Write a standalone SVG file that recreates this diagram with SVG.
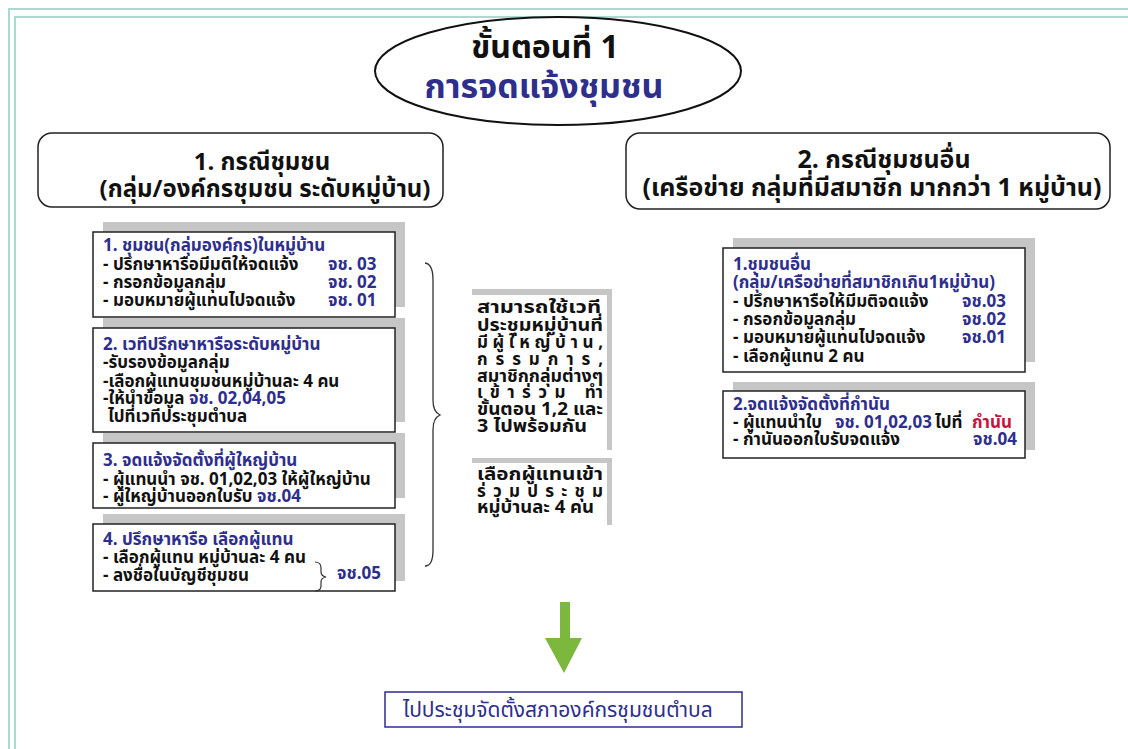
<svg xmlns="http://www.w3.org/2000/svg" width="1128" height="749" viewBox="0 0 1128 749">
<style>
.t{font-family:Tahoma,'Noto Sans Thai','Noto Sans','DejaVu Sans',sans-serif;font-weight:bold;fill:#111}
.s{font-size:17px}
.blue{fill:#2e2e8c}
.red{fill:#c8123c}
.box{fill:#fff;stroke:#222;stroke-width:1.5}
.sh{fill:#c6c6c6}
.frame{fill:none;stroke:#a9d9d1;stroke-width:2}
</style>
<rect x="0" y="0" width="1128" height="749" fill="#fff"/>
<rect class="frame" x="9" y="9" width="1130" height="760"/>
<rect class="frame" x="15" y="17" width="1120" height="750"/>

<g id="title">
<ellipse cx="558" cy="71" rx="183" ry="54" fill="#fff" stroke="#111" stroke-width="2"/>
<text class="t" x="545" y="58" font-size="32" text-anchor="middle">ขั้นตอนที่ 1</text>
<text class="t blue" x="544" y="98" font-size="34" text-anchor="middle">การจดแจ้งชุมชน</text>
</g>

<g id="header1">
<rect x="38" y="133" width="405" height="74" rx="14" fill="#fff" stroke="#222" stroke-width="1.5"/>
<text class="t" x="262" y="170" font-size="24" text-anchor="middle">1. กรณีชุมชน</text>
<text class="t" x="265" y="197" font-size="24" text-anchor="middle">(กลุ่ม/องค์กรชุมชน ระดับหมู่บ้าน)</text>
</g>

<g id="header2">
<rect x="626" y="133" width="484" height="76" rx="14" fill="#fff" stroke="#222" stroke-width="1.5"/>
<text class="t" x="884" y="168" font-size="25" text-anchor="middle">2. กรณีชุมชนอื่น</text>
<text class="t" x="872" y="196" font-size="25" text-anchor="middle">(เครือข่าย กลุ่มที่มีสมาชิก มากกว่า 1 หมู่บ้าน)</text>
</g>

<g id="L1">
<rect class="sh" x="103" y="222" width="302" height="85"/>
<rect class="box" x="93" y="232" width="302" height="85"/>
<text class="t s blue" x="103" y="251">1. ชุมชน(กลุ่มองค์กร)ในหมู่บ้าน</text>
<text class="t s" x="103" y="270">- ปรึกษาหารือมีมติให้จดแจ้ง</text>
<text class="t s blue" x="328" y="270">จช. 03</text>
<text class="t s" x="103" y="288">- กรอกข้อมูลกลุ่ม</text>
<text class="t s blue" x="328" y="288">จช. 02</text>
<text class="t s" x="103" y="306">- มอบหมายผู้แทนไปจดแจ้ง</text>
<text class="t s blue" x="328" y="306">จช. 01</text>
</g>

<g id="L2">
<rect class="sh" x="103" y="318" width="302" height="104"/>
<rect class="box" x="93" y="328" width="302" height="104"/>
<text class="t s blue" x="103" y="350">2. เวทีปรึกษาหารือระดับหมู่บ้าน</text>
<text class="t s" x="103" y="368">-รับรองข้อมูลกลุ่ม</text>
<text class="t s" x="103" y="387">-เลือกผู้แทนชุมชนหมู่บ้านละ 4 คน</text>
<text class="t s" x="103" y="404">-ให้นำข้อมูล <tspan class="blue">จช. 02,04,05</tspan></text>
<text class="t s" x="108" y="422">ไปที่เวทีประชุมตำบล</text>
</g>

<g id="L3">
<rect class="sh" x="103" y="433" width="302" height="65"/>
<rect class="box" x="93" y="443" width="302" height="65"/>
<text class="t s blue" x="103" y="466">3. จดแจ้งจัดตั้งที่ผู้ใหญ่บ้าน</text>
<text class="t s" x="103" y="485">- ผู้แทนนำ จช. 01,02,03 ให้ผู้ใหญ่บ้าน</text>
<text class="t s" x="103" y="502">- ผู้ใหญ่บ้านออกใบรับ <tspan class="blue">จช.04</tspan></text>
</g>

<g id="L4">
<rect class="sh" x="103" y="514" width="302" height="67"/>
<rect class="box" x="93" y="524" width="302" height="67"/>
<text class="t s blue" x="103" y="545">4. ปรึกษาหารือ เลือกผู้แทน</text>
<text class="t s" x="103" y="563">- เลือกผู้แทน หมู่บ้านละ 4 คน</text>
<text class="t s" x="103" y="581">- ลงชื่อในบัญชีชุมชน</text>
<path d="M315,562 Q321,562 321,568 L321,572 Q321,576 326,577 Q321,578 321,582 L321,586 Q321,591 315,591" fill="none" stroke="#333" stroke-width="1.2"/>
<text class="t s blue" x="337" y="579">จช.05</text>
</g>

<g id="connectors">
<path d="M425,263 Q433,264 433,280 L433,400 Q433,412 440,415 Q433,418 433,430 L433,550 Q433,566 425,566" fill="none" stroke="#333" stroke-width="1.3"/>
<polygon points="560,602 570,602 570,638 582,638 564,673 545,638 560,638" fill="#7db83e"/>
</g>

<g id="M1">
<rect class="sh" x="472" y="289" width="140" height="161"/>
<rect x="464" y="295" width="143" height="165" fill="#fff"/>
<text class="t s" x="477" y="313" textLength="124" lengthAdjust="spacingAndGlyphs">สามารถใช้เวที</text>
<text class="t s" x="477" y="331" textLength="126" lengthAdjust="spacingAndGlyphs">ประชุมหมู่บ้านที่</text>
<text class="t s" x="477" y="348" textLength="126" lengthAdjust="spacing">มีผู้ใหญ่บ้าน,</text>
<text class="t s" x="477" y="365" textLength="126" lengthAdjust="spacing">กรรมการ,</text>
<text class="t s" x="477" y="382" textLength="126" lengthAdjust="spacingAndGlyphs">สมาชิกกลุ่มต่างๆ</text>
<text class="t s" x="477" y="398" textLength="126" lengthAdjust="spacing">เข้าร่วม ทำ</text>
<text class="t s" x="477" y="415" textLength="126" lengthAdjust="spacingAndGlyphs">ขั้นตอน 1,2 และ</text>
<text class="t s" x="477" y="432" textLength="110" lengthAdjust="spacingAndGlyphs">3 ไปพร้อมกัน</text>
</g>

<g id="M2">
<rect class="sh" x="472" y="458" width="140" height="67"/>
<rect x="464" y="463" width="143" height="70" fill="#fff"/>
<text class="t s" x="477" y="480" textLength="126" lengthAdjust="spacingAndGlyphs">เลือกผู้แทนเข้า</text>
<text class="t s" x="477" y="497" textLength="126" lengthAdjust="spacing">ร่วมประชุม</text>
<text class="t s" x="477" y="513" textLength="117" lengthAdjust="spacingAndGlyphs">หมู่บ้านละ 4 คน</text>
</g>

<g id="R1">
<rect class="sh" x="733" y="238" width="302" height="124"/>
<rect class="box" x="723" y="248" width="302" height="124"/>
<text class="t s blue" x="733" y="270">1.ชุมชนอื่น</text>
<text class="t s blue" x="733" y="288">(กลุ่ม/เครือข่ายที่สมาชิกเกิน1หมู่บ้าน)</text>
<text class="t s" x="733" y="307">- ปรึกษาหารือให้มีมติจดแจ้ง</text>
<text class="t s blue" x="962" y="307">จช.03</text>
<text class="t s" x="733" y="325">- กรอกข้อมูลกลุ่ม</text>
<text class="t s blue" x="962" y="325">จช.02</text>
<text class="t s" x="733" y="343">-  มอบหมายผู้แทนไปจดแจ้ง</text>
<text class="t s blue" x="962" y="343">จช.01</text>
<text class="t s" x="733" y="362">- เลือกผู้แทน 2 คน</text>
</g>

<g id="R2">
<rect class="sh" x="733" y="382" width="302" height="68"/>
<rect class="box" x="723" y="391" width="302" height="67"/>
<text class="t s blue" x="733" y="410">2.จดแจ้งจัดตั้งที่กำนัน</text>
<text class="t s" x="733" y="428">- ผู้แทนนำใบ</text>
<text class="t s blue" x="835" y="428">จช. 01,02,03</text>
<text class="t s" x="935" y="428">ไปที่</text>
<text class="t s red" x="972" y="428">กำนัน</text>
<text class="t s" x="733" y="445">- กำนันออกใบรับจดแจ้ง</text>
<text class="t s blue" x="973" y="445">จช.04</text>
</g>

<g id="final">
<rect x="385" y="692" width="357" height="35" fill="#fff" stroke="#2e2e8c" stroke-width="1.5"/>
<text class="t blue" x="403" y="717" font-size="21" style="font-weight:normal">ไปประชุมจัดตั้งสภาองค์กรชุมชนตำบล</text>
</g>
</svg>
